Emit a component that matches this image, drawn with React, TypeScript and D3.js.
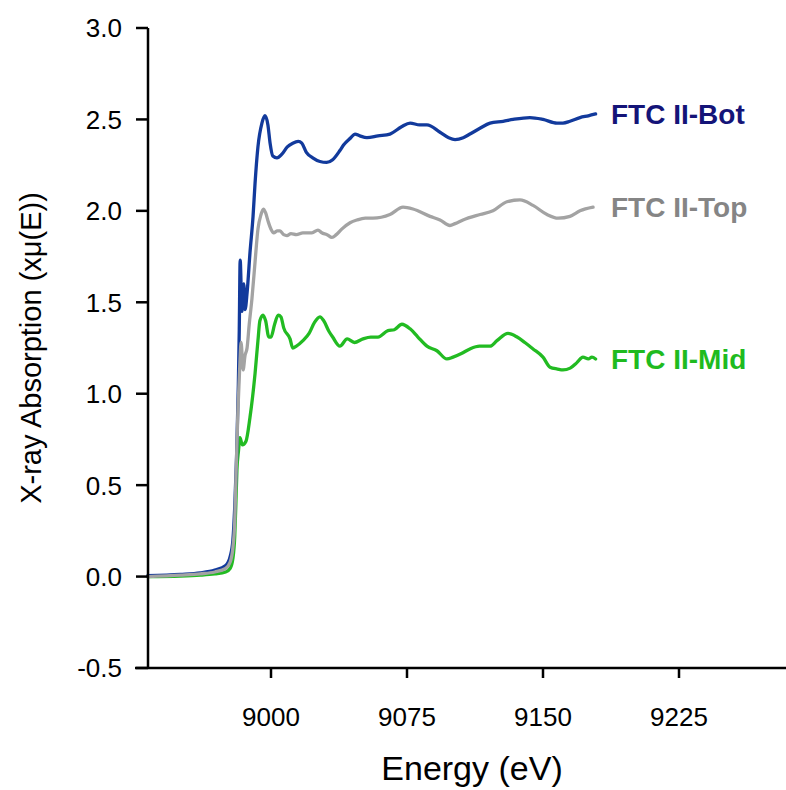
import React from "react";
import * as d3 from "d3";

// ---- data ----
const botEnergy = [8932, 8950, 8961, 8969, 8975, 8977.5, 8979, 8980, 8981, 8982, 8982.5, 8983, 8984, 8985, 8985.7, 8986.8, 8988.4, 8990.1, 8991.2, 8992.8, 8995, 8996.7, 8998.3, 8999.5, 9001, 9003.3, 9006, 9009, 9012, 9015, 9017, 9019.5, 9023, 9027, 9030.7, 9034, 9038, 9040, 9044, 9046.3, 9049, 9052.9, 9059, 9065.6, 9072, 9076.7, 9082, 9086, 9093.2, 9098, 9101.5, 9106, 9109.7, 9115, 9120.8, 9128, 9133.5, 9142.8, 9150, 9157.7, 9161, 9164.9, 9170.4, 9175, 9179];
const botAbs = [0.005, 0.012, 0.02, 0.035, 0.06, 0.11, 0.2, 0.38, 0.65, 1.05, 1.35, 1.73, 1.45, 1.6, 1.46, 1.55, 1.77, 1.97, 2.15, 2.35, 2.48, 2.52, 2.47, 2.37, 2.3, 2.29, 2.31, 2.35, 2.37, 2.38, 2.37, 2.32, 2.29, 2.27, 2.265, 2.28, 2.33, 2.36, 2.4, 2.42, 2.41, 2.4, 2.41, 2.42, 2.46, 2.48, 2.47, 2.47, 2.43, 2.4, 2.39, 2.4, 2.42, 2.45, 2.48, 2.49, 2.5, 2.51, 2.5, 2.48, 2.48, 2.49, 2.51, 2.52, 2.53];

const topEnergy = [8932, 8950, 8961, 8969, 8975, 8977.5, 8979, 8980, 8980.7, 8981.8, 8982.9, 8983.5, 8984.6, 8985.7, 8986.8, 8988, 8989.5, 8991.2, 8992.8, 8994.5, 8995.8, 8997, 8998.5, 9000, 9001.5, 9003.5, 9005, 9007, 9008.8, 9011, 9014, 9017.6, 9022.6, 9025.9, 9028, 9030.9, 9033.6, 9036, 9039, 9043.6, 9047.4, 9052, 9056.3, 9065.6, 9072.8, 9078.3, 9087.7, 9093.2, 9098.7, 9101.5, 9105.9, 9115.3, 9122.4, 9130.1, 9137.3, 9144.5, 9152.2, 9158.3, 9164.9, 9170.4, 9177.6];
const topAbs = [0.0, 0.008, 0.015, 0.025, 0.045, 0.08, 0.16, 0.3, 0.55, 0.92, 1.18, 1.28, 1.13, 1.21, 1.25, 1.38, 1.52, 1.72, 1.9, 1.98, 2.01, 1.99, 1.94, 1.9, 1.88, 1.89, 1.89, 1.87, 1.865, 1.875, 1.87, 1.88, 1.88, 1.895, 1.88, 1.87, 1.855, 1.87, 1.9, 1.935, 1.95, 1.96, 1.96, 1.98, 2.02, 2.01, 1.97, 1.95, 1.92, 1.93, 1.95, 1.98, 2.0, 2.05, 2.06, 2.03, 1.98, 1.96, 1.97, 2.0, 2.02];

const midEnergy = [8932, 8950, 8961, 8969, 8975, 8977.5, 8979, 8980, 8980.7, 8981.2, 8982.1, 8982.9, 8984.2, 8986.2, 8988.4, 8991.2, 8992.8, 8993.9, 8995.6, 8997, 8998.8, 9000, 9002, 9004, 9005.5, 9007, 9010.5, 9012, 9014, 9017.6, 9021, 9024, 9027, 9029, 9032, 9034, 9038, 9042, 9046, 9050.7, 9055, 9059, 9064.5, 9068, 9072.2, 9076.7, 9081, 9086, 9091.5, 9097, 9100.4, 9105, 9109.7, 9115, 9120.8, 9124.6, 9130.7, 9135.7, 9140, 9144.5, 9150, 9153.9, 9158, 9161, 9165, 9168.7, 9172, 9175, 9177, 9179];
const midAbs = [0.0, 0.003, 0.008, 0.015, 0.025, 0.045, 0.1, 0.22, 0.42, 0.58, 0.69, 0.76, 0.72, 0.74, 0.87, 1.11, 1.29, 1.4, 1.43, 1.4, 1.31, 1.31, 1.38, 1.43, 1.42, 1.36, 1.3, 1.25, 1.26, 1.29, 1.33, 1.39, 1.42, 1.4, 1.34, 1.31, 1.26, 1.3, 1.28, 1.3, 1.31, 1.31, 1.345, 1.35, 1.38, 1.355, 1.31, 1.26, 1.235, 1.19, 1.2, 1.22, 1.245, 1.26, 1.26, 1.29, 1.33, 1.31, 1.28, 1.245, 1.2, 1.145, 1.135, 1.13, 1.14, 1.17, 1.2, 1.19, 1.2, 1.19];

const xTicks = [9000, 9075, 9150, 9225];
const yTicks = [-0.5, 0.0, 0.5, 1.0, 1.5, 2.0, 2.5, 3.0];
const seriesNames = ["FTC II-Bot", "FTC II-Top", "FTC II-Mid"];

const W = 786;
const H = 790;
const font = "Arial, 'Liberation Sans', sans-serif";

export default function App() {
  const x = d3.scaleLinear().domain([8925, 9300]).range([135, 815]);
  const y = d3.scaleLinear().domain([-0.5, 3.0]).range([668, 28]);
  const axisX = 148;

  const series = [
    { name: seriesNames[0], e: botEnergy, v: botAbs, color: "#123a9c", text: "#141478" },
    { name: seriesNames[1], e: topEnergy, v: topAbs, color: "#a3a3a3", text: "#858585" },
    { name: seriesNames[2], e: midEnergy, v: midAbs, color: "#22bb22", text: "#1fbb1f" },
  ];

  const line = d3
    .line<[number, number]>()
    .x((d) => x(d[0]))
    .y((d) => y(d[1]))
    .curve(d3.curveMonotoneX);

  const drawOrder = [2, 0, 1];

  return (
    <svg
      width={W}
      height={H}
      style={{ position: "absolute", left: 0, top: 0, background: "#fff" }}
      fontFamily={font}
    >
      <rect x={0} y={0} width={W} height={H} fill="#fff" />
      {drawOrder.map((i) => {
        const s = series[i];
        const pts = s.e.map((e, k) => [e, s.v[k]] as [number, number]);
        return (
          <path
            key={s.name}
            d={line(pts) || ""}
            fill="none"
            stroke={s.color}
            strokeWidth={3.3}
            strokeLinejoin="round"
            strokeLinecap="round"
          />
        );
      })}
      {series.map((s) => {
        const last = s.v[s.v.length - 1];
        return (
          <text
            key={s.name + "-lbl"}
            x={611}
            y={y(last)}
            dy="0.36em"
            fontSize={28}
            fontWeight="bold"
            fill={s.text}
          >
            {s.name}
          </text>
        );
      })}
      {/* y axis */}
      <line x1={axisX} x2={axisX} y1={y(3.0)} y2={y(-0.5)} stroke="#000" strokeWidth={2.5} />
      {yTicks.map((t) => (
        <g key={"yt" + t}>
          <line x1={axisX - 12} x2={axisX} y1={y(t)} y2={y(t)} stroke="#000" strokeWidth={2.5} />
          <text x={122} y={y(t)} dy="0.36em" textAnchor="end" fontSize={26} fill="#000">
            {d3.format(".1f")(t).replace("−", "-")}
          </text>
        </g>
      ))}
      {/* x axis */}
      <line x1={x(8925)} x2={W} y1={y(-0.5)} y2={y(-0.5)} stroke="#000" strokeWidth={2.5} />
      {xTicks.map((t) => (
        <g key={"xt" + t}>
          <line x1={x(t)} x2={x(t)} y1={y(-0.5)} y2={y(-0.5) + 10} stroke="#000" strokeWidth={2.5} />
          <text x={x(t)} y={y(-0.5) + 58} textAnchor="middle" fontSize={26} fill="#000">
            {t}
          </text>
        </g>
      ))}
      <text x={472} y={780} textAnchor="middle" fontSize={34} fill="#000">
        Energy (eV)
      </text>
      <text
        transform={`translate(41,348) rotate(-90)`}
        textAnchor="middle"
        fontSize={29}
        fill="#000"
      >
        X-ray Absorption (xμ(E))
      </text>
    </svg>
  );
}
